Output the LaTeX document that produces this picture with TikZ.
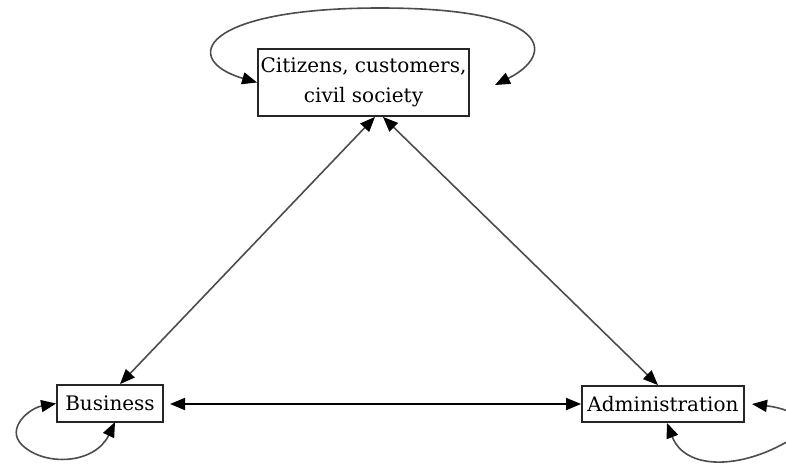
\documentclass[tikz,border=0pt]{standalone}
\usepackage{fontspec}
\setmainfont{DejaVu Serif}
\usetikzlibrary{arrows.meta}
\begin{document}
\begin{tikzpicture}[x=1pt,y=-1pt,
  tip/.style={Triangle[length=15pt,width=12pt,black]},
  box/.style={draw=black!85,line width=1.8pt,fill=white,inner sep=0pt,align=center,
    font=\fontsize{20}{30}\selectfont},
  conn/.style={draw=black!70,line width=1.6pt,{Triangle[length=15pt,width=12pt,black]}-{Triangle[length=15pt,width=12pt,black]}}]
\clip (0,0) rectangle (786,464);
\useasboundingbox (0,0) rectangle (786,464);
\node[box,minimum width=211pt,minimum height=67pt] (cit) at (363.5,82.5) {Citizens, customers,\\civil society};
\node[box,minimum width=106pt,minimum height=37pt] (bus) at (110,403.5) {Business};
\node[box,minimum width=162pt,minimum height=36pt] (adm) at (663,404) {Administration};
\coordinate (topR) at (495,85);
\coordinate (busR) at (170,404);
\coordinate (busB) at (115,422);
\coordinate (admR) at (752,404);
\coordinate (admB) at (667,423);
% main connectors
\draw[conn] ([xshift=11.5pt]cit.south) -- ([xshift=10pt]bus.north);
\draw[conn] ([xshift=19.5pt]cit.south) -- ([xshift=-5pt]adm.north);
\draw[conn,draw=black] (busR) -- (adm.west);
% self loops
\draw[conn] (topR) .. controls (555,55) and (555,8) .. (380,8)
  .. controls (200,8) and (180,60) .. (cit.west);
\draw[conn] (busB) .. controls (95,464) and (45,467) .. (22,445)
  .. controls (5,428) and (30,408) .. (bus.west);
\draw[conn] (admB) .. controls (685,470) and (740,470) .. (790,440)
  .. controls (810,425) and (800,410) .. (admR);
\end{tikzpicture}
\end{document}
